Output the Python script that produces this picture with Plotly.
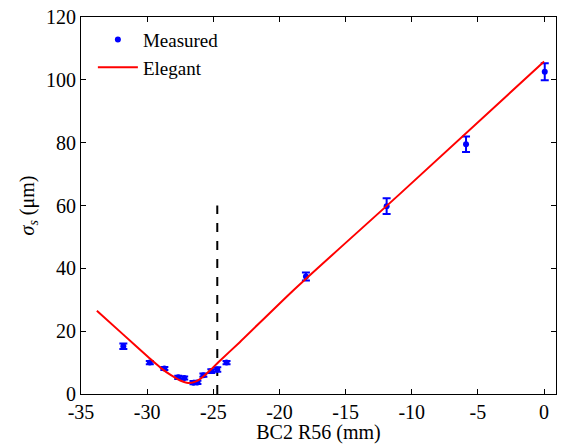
import plotly.graph_objects as go

meas_x = [-31.8, -29.8, -28.7, -27.65, -27.2, -26.5, -26.2, -25.75, -25.15, -24.7, -24.0, -18.0, -11.9, -5.9, 0.05]
meas_y = [15.2, 10.0, 8.1, 5.3, 5.1, 3.6, 3.7, 6.0, 7.3, 7.8, 10.0, 37.4, 59.8, 79.5, 102.6]
meas_err = [0.9, 0.5, 0.5, 0.5, 0.5, 0.5, 0.5, 0.5, 0.6, 0.7, 0.5, 1.3, 2.5, 2.5, 2.7]

# Elegant simulation curve
ele_x = [-33.8, -31.8, -29.8, -29.0, -28.2, -27.5, -26.9, -26.3, -25.8, -25.2, -24.6, -23.0, -19.0, -11.0, 0.0]
ele_y = [26.5, 18.9, 11.3, 8.4, 6.0, 4.3, 3.5, 4.0, 5.4, 7.7, 10.2, 16.5, 32.8, 63.3, 105.8]

# Vertical dashed marker
vline_x = [-24.7, -24.7]
vline_y = [0, 60]

xticks = [-35, -30, -25, -20, -15, -10, -5, 0]
xticklabels = ["-35", "-30", "-25", "-20", "-15", "-10", "-5", "0"]
yticks = [0, 20, 40, 60, 80, 100, 120]

font_family = "Liberation Serif"
fsize = 20

fig = go.Figure()
fig.add_trace(go.Scatter(
    x=vline_x, y=vline_y, mode="lines", showlegend=False,
    line=dict(color="black", width=2, dash="dash"), hoverinfo="skip"))
fig.add_trace(go.Scatter(
    x=meas_x, y=meas_y, mode="markers", name="Measured",
    marker=dict(color="#0000ff", size=6, symbol="circle"),
    error_y=dict(type="data", array=meas_err, color="#0000ff", thickness=2, width=4)))
fig.add_trace(go.Scatter(
    x=ele_x, y=ele_y, mode="lines", name="Elegant",
    line=dict(color="#ff0000", width=2, shape="spline", smoothing=0.6)))

axis_common = dict(
    showline=True, linecolor="black", linewidth=1, mirror="ticks",
    ticks="inside", ticklen=5, tickcolor="black", showgrid=False, zeroline=False,
    tickfont=dict(family=font_family, size=fsize, color="black"),
)

fig.update_layout(
    width=563, height=444,
    margin=dict(l=81, r=6, t=14, b=50),
    paper_bgcolor="white", plot_bgcolor="white",
    font=dict(family=font_family, size=fsize, color="black"),
    xaxis=dict(range=[-35, 0.9], tickvals=xticks, ticktext=xticklabels,
               title=dict(text="BC2 R56 (mm)", font=dict(family=font_family, size=fsize), standoff=0),
               **axis_common),
    yaxis=dict(range=[0, 120], tickvals=yticks,
               title=dict(text="<i>σ</i><sub><i>s</i></sub> (μm)", font=dict(family=font_family, size=fsize), standoff=6),
               **axis_common),
    legend=dict(x=0.025, y=0.99, xanchor="left", yanchor="top", bgcolor="rgba(0,0,0,0)",
                font=dict(family=font_family, size=19), tracegroupgap=0, itemwidth=40),
    showlegend=True,
)

fig.write_html("out.html")
